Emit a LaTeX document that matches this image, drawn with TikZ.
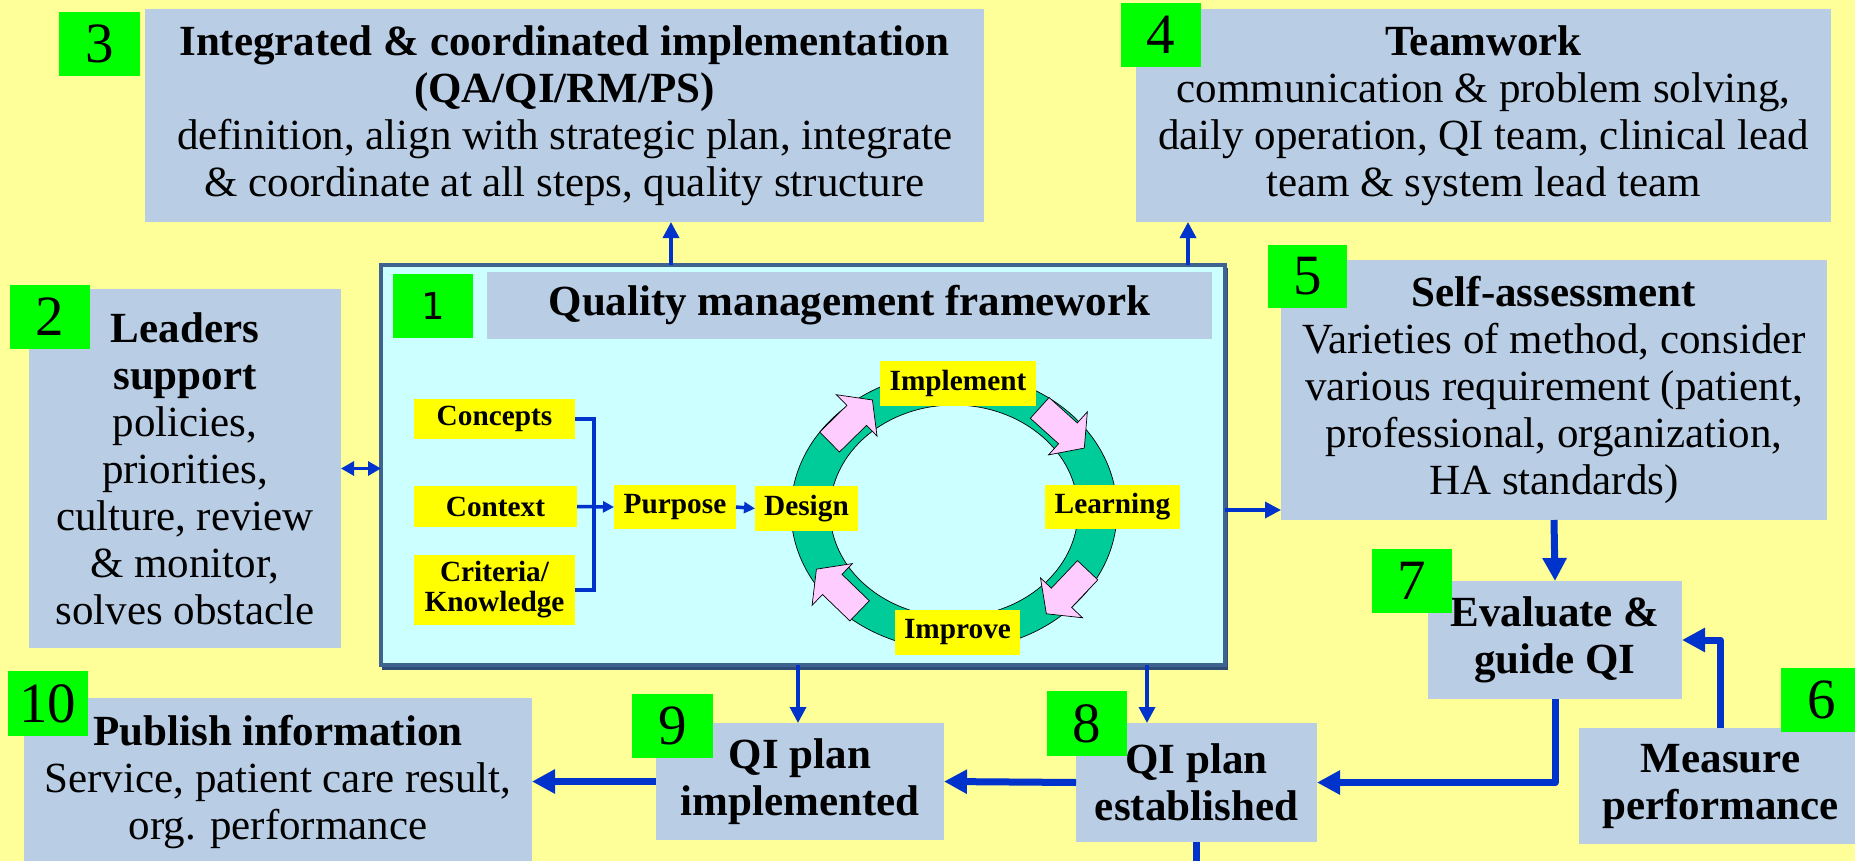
\documentclass[tikz,border=0pt]{standalone}
\usepackage{fontspec}
\setmainfont{Liberation Serif}
\newfontfamily\numfont{DejaVu Sans}
\usetikzlibrary{arrows.meta}
\definecolor{bgyellow}{HTML}{FFFF99}
\definecolor{boxblue}{HTML}{B9CDE5}
\definecolor{numgreen}{HTML}{00FF00}
\definecolor{framefill}{HTML}{CCFFFF}
\definecolor{frameborder}{HTML}{3E6391}
\definecolor{frameshadow}{HTML}{2E4C75}
\definecolor{labyellow}{HTML}{FFFF00}
\definecolor{ringgreen}{HTML}{00CC99}
\definecolor{pinkfill}{HTML}{FFCCFF}
\definecolor{arrowblue}{HTML}{0033CC}
% place a rectangular node by its corners (pixel coordinates, y downwards)
\newcommand{\placebox}[7]{%
  \pgfmathsetmacro{\pbcx}{(#3+#5)/2}\pgfmathsetmacro{\pbcy}{(#4+#6)/2}%
  \pgfmathsetmacro{\pbw}{#5-#3}\pgfmathsetmacro{\pbh}{#6-#4}%
  \node[#1, minimum width=\pbw pt, minimum height=\pbh pt] (#2) at (\pbcx,\pbcy) {#7};}
\begin{document}
\begin{tikzpicture}[x=1pt,y=-1pt,
  box/.style={fill=boxblue, inner sep=0pt, outer sep=0pt, align=center, font=\fontsize{43}{47}\selectfont},
  numsq/.style={fill=numgreen, inner sep=0pt, outer sep=0pt, font=\fontsize{57}{57}\selectfont},
  lab/.style={fill=labyellow, inner sep=0pt, outer sep=0pt, align=center, font=\fontsize{29.3}{30}\selectfont\bfseries},
  bigarrow/.style={draw=arrowblue, line width=7pt, line join=round, -{Triangle[width=23pt,length=23pt]}},
  thinarrow/.style={draw=arrowblue, line width=3.5pt, -{Triangle[width=16pt,length=16pt]}},
  smallarrow/.style={draw=arrowblue, line width=3.5pt, -{Triangle[width=11pt,length=11pt]}},
  dblarrow/.style={draw=arrowblue, line width=3pt, {Triangle[width=14pt,length=13pt]}-{Triangle[width=14pt,length=13pt]}},
  bluebar/.style={draw=arrowblue, line width=3.5pt},
  pinkarrow/.style={fill=pinkfill, draw=black, line width=0.7pt, line join=miter},
  framebox/.style={fill=framefill, draw=frameborder, line width=4.5pt, inner sep=0pt, outer sep=0pt},
  shadowbox/.style={fill=frameshadow, inner sep=0pt, outer sep=0pt}
]
\useasboundingbox (0,0) rectangle (1855,861);
\clip (0,0) rectangle (1855,861);
\fill[bgyellow] (0,0) rectangle (1855,861);

% outer boxes
\placebox{box}{b3}{145}{9}{984}{222}{\textbf{Integrated \& coordinated implementation}\\\textbf{(QA/QI/RM/PS)}\\definition, align with strategic plan, integrate\\\& coordinate at all steps, quality structure}
\placebox{box}{b4}{1136}{9}{1831}{222}{\textbf{Teamwork}\\communication \& problem solving,\\daily operation, QI team, clinical lead\\team \& system lead team}
\placebox{box}{b5}{1281}{260}{1827}{520}{\textbf{Self-assessment}\\Varieties of method, consider\\various requirement (patient,\\professional, organization,\\HA standards)}
\placebox{box}{b2}{29}{289}{341}{648}{\textbf{Leaders}\\\textbf{support}\\policies,\\priorities,\\culture, review\\\& monitor,\\solves obstacle}
\placebox{box}{b10}{24}{698}{532}{866}{\textbf{Publish information}\\Service, patient care result,\\org. performance}
\placebox{box}{b9}{656}{723}{944}{840}{\textbf{QI plan}\\\textbf{implemented}}
\placebox{box}{b8}{1076}{723}{1317}{842}{\textbf{QI plan}\\\textbf{established}}
\placebox{box}{b7}{1428}{581}{1682}{699}{\textbf{Evaluate \&}\\\textbf{guide QI}}
\placebox{box}{b6}{1579}{728}{1862}{844}{\textbf{Measure}\\\textbf{performance}}

% number squares
\placebox{numsq}{n3}{59}{12}{140}{76}{3}
\placebox{numsq}{n4}{1121}{3}{1201}{67}{4}
\placebox{numsq}{n5}{1268}{245}{1347}{308}{5}
\placebox{numsq}{n2}{10}{285}{90}{349}{2}
\placebox{numsq}{n10}{8}{671}{88}{736}{10}
\placebox{numsq}{n9}{632}{694}{713}{758}{9}
\placebox{numsq}{n8}{1047}{691}{1127}{756}{8}
\placebox{numsq}{n7}{1372}{549}{1452}{613}{7}
\placebox{numsq}{n6}{1781}{668}{1862}{732}{6}

% framework frame
\placebox{shadowbox}{fshadow}{382}{268}{1228}{670}{}
\placebox{framebox}{frame}{381}{265}{1225}{665}{}
\placebox{box}{title}{487}{272}{1212}{339}{\textbf{Quality management framework}}
\placebox{numsq, font=\numfont\fontsize{37}{37}\selectfont}{n1}{393}{274}{473}{338}{1}

% ring
\fill[ringgreen, even odd rule] (954,511) ellipse [x radius=163pt, y radius=139pt]
  (954,511) ellipse [x radius=124pt, y radius=106pt];
\draw[black, line width=0.7pt] (954,511) ellipse [x radius=163pt, y radius=139pt];
\draw[black, line width=0.7pt] (954,511) ellipse [x radius=124pt, y radius=106pt];

% pink cycle arrows (clockwise)
\begin{scope}[shift={(851,421)}, rotate=44.5]
  \filldraw[pinkarrow] (-30,-14) -- (8,-14) -- (8,-29) -- (30,0) -- (8,29) -- (8,14) -- (-30,14) -- cycle;
\end{scope}
\begin{scope}[shift={(1062,428)}, rotate=-42]
  \filldraw[pinkarrow] (-30,-14) -- (8,-14) -- (8,-29) -- (30,0) -- (8,29) -- (8,14) -- (-30,14) -- cycle;
\end{scope}
\begin{scope}[shift={(1067,592)}, rotate=-133.5]
  \filldraw[pinkarrow] (-30,-14) -- (8,-14) -- (8,-29) -- (30,0) -- (8,29) -- (8,14) -- (-30,14) -- cycle;
\end{scope}
\begin{scope}[shift={(838,590)}, rotate=136]
  \filldraw[pinkarrow] (-30,-14) -- (8,-14) -- (8,-29) -- (30,0) -- (8,29) -- (8,14) -- (-30,14) -- cycle;
\end{scope}

% yellow labels
\placebox{lab}{concepts}{414}{399}{575}{439}{Concepts}
\placebox{lab}{context}{414}{486}{577}{527}{Context}
\placebox{lab}{criteria}{414}{555}{575}{625}{Criteria/\\Knowledge}
\placebox{lab}{purpose}{614}{485}{736}{529}{Purpose}
\placebox{lab}{design}{755}{486}{858}{531}{Design}
\placebox{lab}{implement}{880}{361}{1036}{406}{Implement}
\placebox{lab}{learning}{1045}{485}{1180}{529}{Learning}
\placebox{lab}{improve}{895}{610}{1020}{655}{Improve}

% inner connectors
\coordinate (xb) at (594,0);
\draw[bluebar] (concepts.east) -- (concepts.east -| xb) |- (criteria.east);
\draw[smallarrow] (context.east) -- (purpose.west);
\draw[smallarrow] (purpose.east) -- (design.west);

% outer connectors
\coordinate (x3) at (671,0);
\coordinate (x4) at (1188,0);
\coordinate (y5) at (0,510);
\coordinate (x9) at (798,0);
\coordinate (x8) at (1147,0);
\coordinate (offpage) at (1196,880);
\draw[thinarrow] (frame.north -| x3) -- (b3.south -| x3);
\draw[thinarrow] (frame.north -| x4) -- (b4.south -| x4);
\draw[thinarrow] (frame.east |- y5) -- (b5.west |- y5);
\draw[thinarrow] (frame.south -| x9) -- (b9.north -| x9);
\draw[thinarrow] (frame.south -| x8) -- (b8.north -| x8);
\draw[dblarrow] (b2.east) -- (b2.east -| frame.west);
\draw[bigarrow] (b5.south) -- (b7.north);
\draw[bigarrow] (b6.north) |- (b7.east);
\draw[bigarrow] (b7.south) |- (b8.east);
\draw[bigarrow] (b8.west) -- (b9.east);
\draw[bigarrow] (b9.west) -- (b10.east |- b9.west);
\draw[draw=arrowblue, line width=7pt] (b8.south) -- (b8.south |- offpage);
\end{tikzpicture}
\end{document}
